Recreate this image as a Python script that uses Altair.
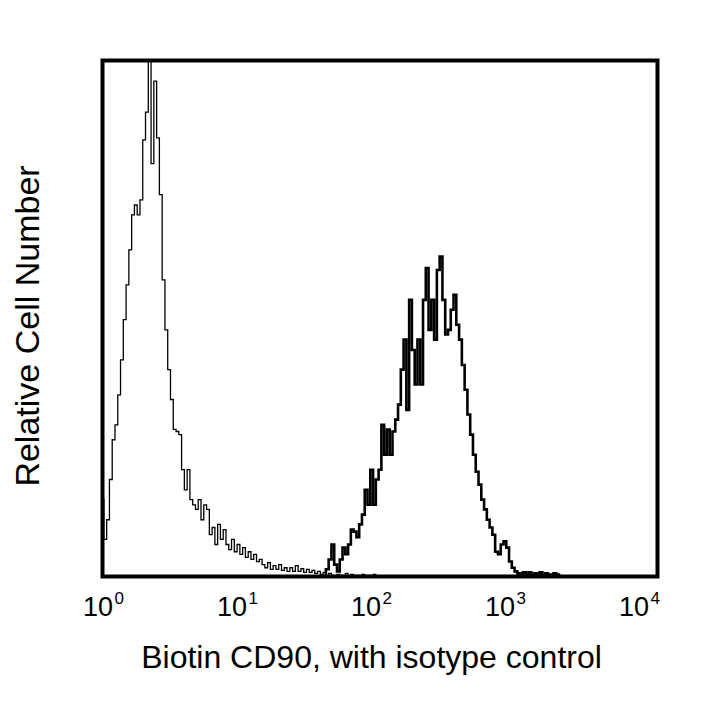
import altair as alt
import pandas as pd

# Histogram channels: counts per log-channel (0.02 decade wide), relative scale 0-100
BIN_WIDTH = 0.02
ISO_START = 0.0    # log10 of first isotype channel
CD90_START = 1.6   # log10 of first CD90 channel

iso_counts = [
    14.9, 7.2, 11.0, 18.8, 26.5, 29.4, 35.2, 42.0, 49.8, 56.5,
    63.3, 70.1, 72.0, 70.1, 73.0, 84.6, 90.0, 100.0, 80.0, 96.0,
    85.0, 74.0, 57.5, 47.8, 40.1, 34.3, 28.5, 28.1, 27.5, 20.7,
    16.8, 20.7, 14.9, 13.9, 13.0, 14.9, 11.0, 13.9, 13.0, 8.1,
    9.5, 6.2, 10.1, 7.2, 9.1, 6.2, 5.2, 7.2, 4.8, 6.2,
    4.3, 5.6, 3.7, 4.8, 3.3, 4.3, 2.9, 3.3, 2.3, 1.7,
    2.7, 1.4, 2.1, 1.4, 2.3, 1.2, 1.7, 1.0, 1.7, 1.0,
    2.1, 1.0, 1.5, 0.8, 1.4, 0.8, 1.2, 0.6, 1.0, 0.4,
    0.8, 0.2, 0.6, 0.2, 0.0, 0.4, 0.2, 0.0, 0.6, 0.0,
    0.4, 0.0, 0.2, 0.0, 0.4, 0.0, 0.2, 0.0, 0.4, 0.0,
]

cd90_counts = [
    0.4, 1.4, 3.3, 6.2, 2.3, 1.0, 3.3, 5.6, 4.3, 6.2,
    9.1, 8.7, 7.6, 10.1, 12.0, 16.8, 13.9, 20.7, 13.9, 18.8,
    20.7, 29.4, 23.6, 28.5, 23.6, 28.1, 30.4, 33.3, 40.1, 45.9,
    32.3, 53.6, 43.9, 37.2, 45.9, 37.2, 53.6, 59.8, 47.8, 53.6,
    45.9, 59.4, 62.0, 53.6, 46.9, 47.8, 51.7, 54.6, 48.8, 45.9,
    41.0, 36.2, 31.4, 27.5, 23.6, 20.3, 17.8, 14.9, 13.0, 11.0,
    9.5, 8.1, 4.8, 4.3, 6.2, 6.8, 5.6, 2.9, 1.7, 1.0,
    0.6, 0.2, 0.8, 0.4, 0.8, 0.2, 0.6, 0.4, 0.8, 0.2,
    0.6, 0.4, 0.2, 0.6, 0.4, 0.0, 0.0,
]

tick_values = [1, 10, 100, 1000, 10000]
tick_exponents = ["0", "1", "2", "3", "4"]

x_title = "Biotin CD90, with isotype control"
y_title = "Relative Cell Number"


def channels(start, counts, name):
    return pd.DataFrame({
        "fl": [10 ** (start + BIN_WIDTH * i) for i in range(len(counts))],
        "count": counts,
        "series": name,
    })


iso_df = channels(ISO_START, iso_counts, "isotype")
cd_df = channels(CD90_START, cd90_counts, "CD90")
ticks_df = pd.DataFrame({"tick": tick_values, "exp": tick_exponents})

W, H = 555, 516
PX_PER_DECADE = W / 4
FONT = "Liberation Sans"

x_scale = alt.Scale(type="log", domain=[1, 10000], nice=False)
y_scale = alt.Scale(domain=[0, 100], nice=False, zero=True)

x_axis = alt.Axis(
    labels=False, ticks=False, domain=False, grid=False,
    title=x_title, titleFont=FONT, titleFontSize=32, titleFontWeight="normal",
    titleColor="black", titleX=268.5, titleY=91, titleBaseline="alphabetic",
    titleAlign="center",
)
y_axis = alt.Axis(
    labels=False, ticks=False, domain=False, grid=False,
    title=y_title, titleFont=FONT, titleFontSize=34, titleFontWeight="normal",
    titleColor="black", titleX=-64, titleY=265, titleBaseline="alphabetic",
    titleAlign="center", titleAngle=270,
)

iso_line = alt.Chart(iso_df).mark_line(
    interpolate="step", color="black", strokeWidth=1.3, clip=True
).encode(
    x=alt.X("fl:Q", scale=x_scale, axis=x_axis),
    y=alt.Y("count:Q", scale=y_scale, axis=y_axis),
)

cd_line = alt.Chart(cd_df).mark_line(
    interpolate="step", color="black", strokeWidth=2.6, clip=True
).encode(
    x=alt.X("fl:Q", scale=x_scale, axis=x_axis),
    y=alt.Y("count:Q", scale=y_scale, axis=y_axis),
)

# label placement: the "10" of each label drifts slightly left of its tick
tick_base = alt.Chart(ticks_df).transform_calculate(
    k="log(datum.tick) / LN10",
).transform_calculate(
    pos_base=f"datum.tick * pow(10, (10.5 - 4.75 * datum.k) / {PX_PER_DECADE})",
    pos_exp=f"datum.tick * pow(10, (12 - 4.75 * datum.k) / {PX_PER_DECADE})",
    base="'10'",
)

tens = tick_base.mark_text(
    align="right", baseline="alphabetic", font=FONT, fontSize=27, color="black"
).encode(
    x=alt.X("pos_base:Q", scale=x_scale, axis=x_axis),
    y=alt.value(555.5),
    text="base:N",
)

sups = tick_base.mark_text(
    align="left", baseline="alphabetic", font=FONT, fontSize=17, color="black"
).encode(
    x=alt.X("pos_exp:Q", scale=x_scale, axis=x_axis),
    y=alt.value(543.5),
    text="exp:N",
)

chart = alt.layer(iso_line, cd_line, tens, sups).properties(
    width=W,
    height=H,
    background="white",
    autosize=alt.AutoSizeParams(type="none"),
    padding={"left": 94.5, "top": 52.5, "right": 40, "bottom": 110},
).configure_view(stroke="black", strokeWidth=4)

chart.save("out.html", embed_options={"renderer": "svg", "actions": False})
